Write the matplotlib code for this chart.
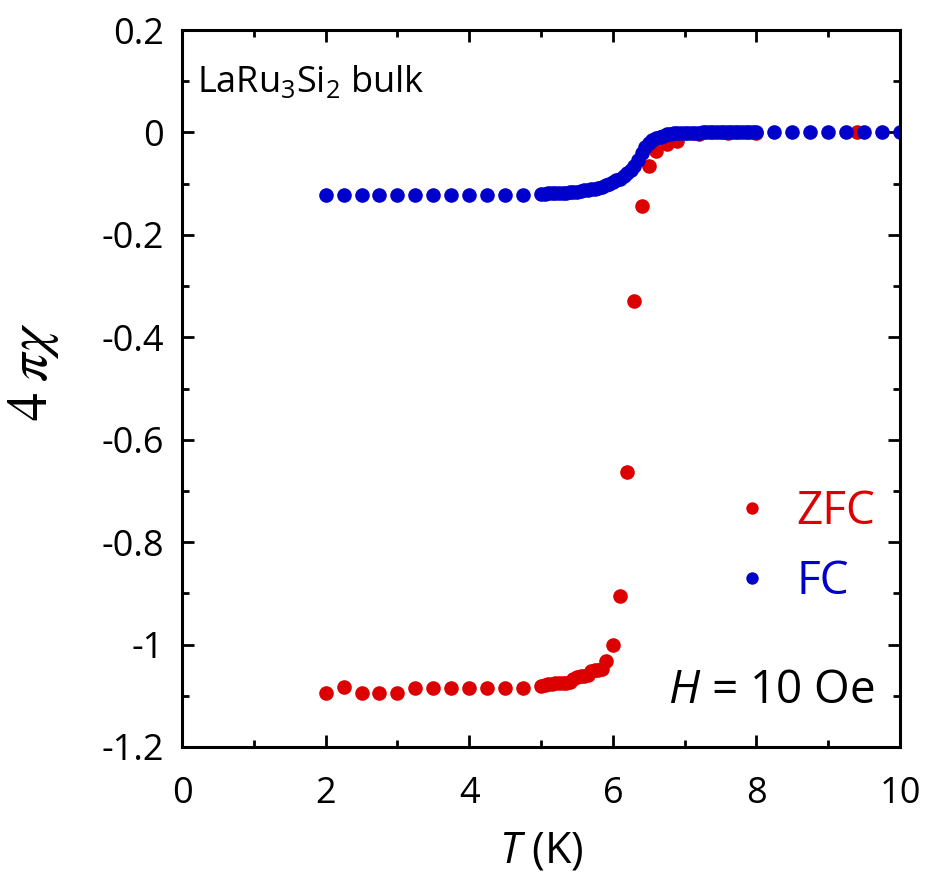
import matplotlib
matplotlib.use("Agg")
import matplotlib.pyplot as plt
from matplotlib.ticker import MultipleLocator

plt.rcParams['font.family'] = ['Open Sans', 'DejaVu Sans']
plt.rcParams['mathtext.fontset'] = 'custom'
plt.rcParams['mathtext.rm'] = 'Open Sans'
plt.rcParams['mathtext.it'] = 'Open Sans:italic'

# zero-field-cooled susceptibility
T_zfc = [2.0, 2.25, 2.5, 2.75, 3.0, 3.25, 3.5, 3.75, 4.0, 4.25, 4.5, 4.75,
         5.0, 5.05, 5.1, 5.15, 5.2, 5.25, 5.3, 5.35, 5.4, 5.45, 5.5, 5.55,
         5.6, 5.65, 5.7, 5.75, 5.8, 5.85, 5.9, 6.0,
         6.1, 6.2, 6.3, 6.4, 6.5, 6.6, 6.75, 6.9, 7.2, 7.6, 8.0, 9.4]
chi_zfc = [-1.095, -1.083, -1.095, -1.095, -1.095, -1.084, -1.084, -1.084,
           -1.084, -1.084, -1.084, -1.084,
           -1.080, -1.078, -1.077, -1.077, -1.076, -1.076, -1.075, -1.075,
           -1.074, -1.068, -1.063, -1.062, -1.061, -1.060, -1.052, -1.050,
           -1.049, -1.048, -1.032, -1.000,
           -0.906, -0.663, -0.330, -0.143, -0.066, -0.036, -0.023, -0.017,
           -0.004, -0.002, -0.001, 0.0]

# field-cooled susceptibility
T_fc = [2.0, 2.25, 2.5, 2.75, 3.0, 3.25, 3.5, 3.75, 4.0, 4.25, 4.5, 4.75,
        5.0, 5.05, 5.1, 5.15, 5.2, 5.25, 5.3, 5.35, 5.4, 5.45, 5.5,
        5.55, 5.6, 5.65, 5.7, 5.75, 5.8, 5.85, 5.9, 5.95, 6.0, 6.05,
        6.1, 6.15, 6.2, 6.25, 6.3, 6.35, 6.4, 6.45, 6.5, 6.55, 6.6, 6.65,
        6.7, 6.75, 6.8, 6.85, 6.9, 6.95, 7.0, 7.05, 7.1, 7.15, 7.2, 7.25,
        7.3, 7.35, 7.4, 7.45, 7.5, 7.55, 7.6, 7.65, 7.7, 7.75, 7.8, 7.85,
        7.9, 7.95, 8.0, 8.25, 8.5, 8.75, 9.0, 9.25, 9.5, 9.75, 10.0]
chi_fc = [-0.123, -0.123, -0.123, -0.123, -0.123, -0.123, -0.123, -0.123,
          -0.123, -0.123, -0.123, -0.123,
          -0.120, -0.120, -0.119, -0.119, -0.119, -0.118, -0.118, -0.118,
          -0.117, -0.117, -0.116,
          -0.114, -0.113, -0.112, -0.111, -0.110, -0.108, -0.106, -0.103,
          -0.100, -0.097, -0.093,
          -0.090, -0.085, -0.079, -0.073, -0.066, -0.053, -0.040, -0.029,
          -0.021, -0.015, -0.011, -0.008,
          -0.006, -0.004, -0.003, -0.002, -0.002, -0.001, -0.001, -0.001,
          -0.001, -0.001, -0.001, 0.0, 0.0, 0.0, 0.0, 0.0, 0.0, 0.0, 0.0,
          0.0, 0.0, 0.0, 0.0, 0.0, 0.0, 0.0, 0.0, 0.0, 0.0, 0.0, 0.0,
          0.0, 0.0, 0.0, 0.0]

red = '#dd0000'
blue = '#0000cc'

fig = plt.figure(figsize=(9.25, 8.75), dpi=100)
ax = fig.add_axes([0.1968, 0.1463, 0.7762, 0.8194])

ax.plot(T_zfc, chi_zfc, 'o', color=red, ms=10.5, mew=0, label='ZFC')
ax.plot(T_fc, chi_fc, 'o', color=blue, ms=10.5, mew=0, label='FC')

ax.set_xlim(0, 10)
ax.set_ylim(-1.2, 0.2)
ax.xaxis.set_major_locator(MultipleLocator(2))
ax.xaxis.set_minor_locator(MultipleLocator(1))
ax.yaxis.set_minor_locator(MultipleLocator(0.1))
ax.set_yticks([-1.2, -1.0, -0.8, -0.6, -0.4, -0.2, 0.0, 0.2])
ax.set_yticklabels(['-1.2', '-1', '-0.8', '-0.6', '-0.4', '-0.2', '0', '0.2'])

for s in ax.spines.values():
    s.set_linewidth(2.2)
ax.tick_params(which='both', direction='in', top=True, right=True,
               width=2.0, labelsize=26)
ax.tick_params(axis='x', which='both', pad=21)
ax.tick_params(axis='y', which='both', pad=13)
ax.tick_params(which='major', length=8.5)
ax.tick_params(which='minor', length=5)

ax.set_xlabel(r'$T$ (K)', fontsize=31, labelpad=12)
ax.set_ylabel(r'$4\;\pi\chi$', fontsize=41, math_fontfamily='stix')
ax.yaxis.set_label_coords(-0.168, 0.524)

ax.text(0.021, 0.9135, r'LaRu$_3$Si$_2$ bulk', transform=ax.transAxes,
        fontsize=26, ha='left', va='baseline')
ax.text(0.965, 0.061, r'$H$ = 10 Oe', transform=ax.transAxes,
        fontsize=33, ha='right', va='baseline')

leg = ax.legend(loc='upper right', bbox_to_anchor=(1.023, 0.417),
                frameon=False, fontsize=33, markerscale=0.85,
                handlelength=0.6, handletextpad=0.66, labelspacing=0.52,
                labelcolor='linecolor')

fig.savefig('out.png', dpi=100)
